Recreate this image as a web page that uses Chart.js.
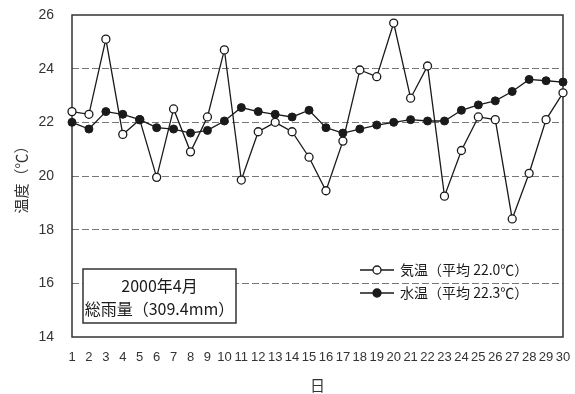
<!DOCTYPE html>
<html>
<head>
<meta charset="utf-8">
<script src="https://cdn.jsdelivr.net/npm/chart.js@4/dist/chart.umd.min.js"></script>
<style>
  html, body { margin: 0; padding: 0; background: #fff; }
  #wrap { width: 575px; height: 394px; }
</style>
</head>
<body>
<div id="wrap"><canvas id="c" width="575" height="394"></canvas></div>
<script>
// Daily temperatures, April 2000
const days = Array.from({length: 30}, (_, i) => String(i + 1));
const airTemp = [22.4, 22.3, 25.1, 21.55, 22.1, 19.95, 22.5, 20.9, 22.2, 24.7,
                 19.85, 21.65, 22.0, 21.65, 20.7, 19.45, 21.3, 23.95, 23.7, 25.7,
                 22.9, 24.1, 19.25, 20.95, 22.2, 22.1, 18.4, 20.1, 22.1, 23.1];
const waterTemp = [22.0, 21.75, 22.4, 22.3, 22.1, 21.8, 21.75, 21.6, 21.7, 22.05,
                   22.55, 22.4, 22.3, 22.2, 22.45, 21.8, 21.6, 21.75, 21.9, 22.0,
                   22.1, 22.05, 22.05, 22.45, 22.65, 22.8, 23.15, 23.6, 23.55, 23.5];
const seriesLabels = ['気温（平均 22.0℃）', '水温（平均 22.3℃）'];
const noteLines = ['2000年4月', '総雨量（309.4mm）'];
const yMin = 14, yMax = 26, yStep = 2;

const INK = '#1a1a1a';
const JP = '"Noto Sans CJK JP", "Noto Sans", sans-serif';
const NUM = '"Liberation Sans Narrow", "Liberation Sans", Arial, sans-serif';

// Solid frame around the plotting area
const framePlugin = {
  id: 'frame',
  beforeDatasetsDraw(chart) {
    const {ctx, chartArea: a} = chart;
    ctx.save();
    ctx.strokeStyle = '#333';
    ctx.lineWidth = 1.5;
    ctx.strokeRect(a.left, a.top, a.right - a.left, a.bottom - a.top);
    ctx.restore();
  }
};

// Rainfall note box and in-plot legend
const notesPlugin = {
  id: 'notes',
  afterDraw(chart) {
    const {ctx, chartArea: a} = chart;
    ctx.save();
    // note box
    const bx = a.left + 11, by = a.bottom - 68, bw = 153, bh = 54;
    ctx.fillStyle = '#fff';
    ctx.fillRect(bx, by, bw, bh);
    ctx.strokeStyle = '#333';
    ctx.lineWidth = 1.5;
    ctx.strokeRect(bx, by, bw, bh);
    ctx.fillStyle = INK;
    ctx.font = '16px ' + JP;
    ctx.textAlign = 'center';
    ctx.textBaseline = 'middle';
    ctx.fillText(noteLines[0], bx + bw / 2, by + 17);
    ctx.fillText(noteLines[1], bx + bw / 2, by + 40);

    // legend
    const lx = a.left + 288, ly0 = a.bottom - 67, gap = 23;
    chart.data.datasets.forEach((ds, i) => {
      const y = ly0 + i * gap;
      ctx.strokeStyle = INK;
      ctx.lineWidth = 1.3;
      ctx.beginPath();
      ctx.moveTo(lx, y);
      ctx.lineTo(lx + 34, y);
      ctx.stroke();
      ctx.beginPath();
      ctx.arc(lx + 17, y, 4, 0, Math.PI * 2);
      ctx.fillStyle = ds.pointBackgroundColor;
      ctx.fill();
      ctx.stroke();
      ctx.fillStyle = INK;
      ctx.font = '14px ' + JP;
      ctx.textAlign = 'left';
      ctx.fillText(ds.label, lx + 40, y);
    });
    ctx.restore();
  }
};

new Chart(document.getElementById('c'), {
  type: 'line',
  data: {
    labels: days,
    datasets: [
      {
        label: seriesLabels[0],
        data: airTemp,
        borderColor: INK,
        borderWidth: 1.3,
        pointRadius: 4,
        pointBorderWidth: 1.3,
        pointBackgroundColor: '#ffffff',
        pointBorderColor: INK,
        tension: 0,
        order: 1
      },
      {
        label: seriesLabels[1],
        data: waterTemp,
        borderColor: INK,
        borderWidth: 1.3,
        pointRadius: 4,
        pointBorderWidth: 1,
        pointBackgroundColor: INK,
        pointBorderColor: INK,
        tension: 0,
        order: 0
      }
    ]
  },
  options: {
    responsive: false,
    animation: false,
    layout: { padding: { top: 15, right: 12, bottom: 0, left: 0 } },
    plugins: { legend: { display: false }, tooltip: { enabled: false } },
    scales: {
      x: {
        offset: false,
        grid: { display: false, drawTicks: false },
        border: { display: false },
        ticks: {
          autoSkip: false, maxRotation: 0, minRotation: 0, padding: 13,
          color: '#333', font: { family: NUM, size: 13 }
        },
        title: {
          display: true, text: '日', color: '#333',
          font: { family: JP, size: 15 }, padding: { top: 2, bottom: 0 }
        },
        afterFit(s) { s.height = 57; s.paddingLeft = 0; s.paddingRight = 0; }
      },
      y: {
        min: yMin, max: yMax,
        grid: {
          drawTicks: false,
          lineWidth: 1,
          color: c => (c.tick && (c.tick.value === yMin || c.tick.value === yMax)) ? 'rgba(0,0,0,0)' : '#777'
        },
        border: { display: false, dash: [7, 3] },
        ticks: {
          stepSize: yStep, padding: 18, color: '#333',
          font: { family: NUM, size: 14 }
        },
        title: {
          display: true, text: '温度（℃）', color: '#333',
          font: { family: JP, size: 15 }, padding: { top: 12, bottom: 4 }
        },
        afterFit(s) { s.width = 72; s.paddingTop = 0; s.paddingBottom = 0; }
      }
    }
  },
  plugins: [framePlugin, notesPlugin]
});
</script>
</body>
</html>
